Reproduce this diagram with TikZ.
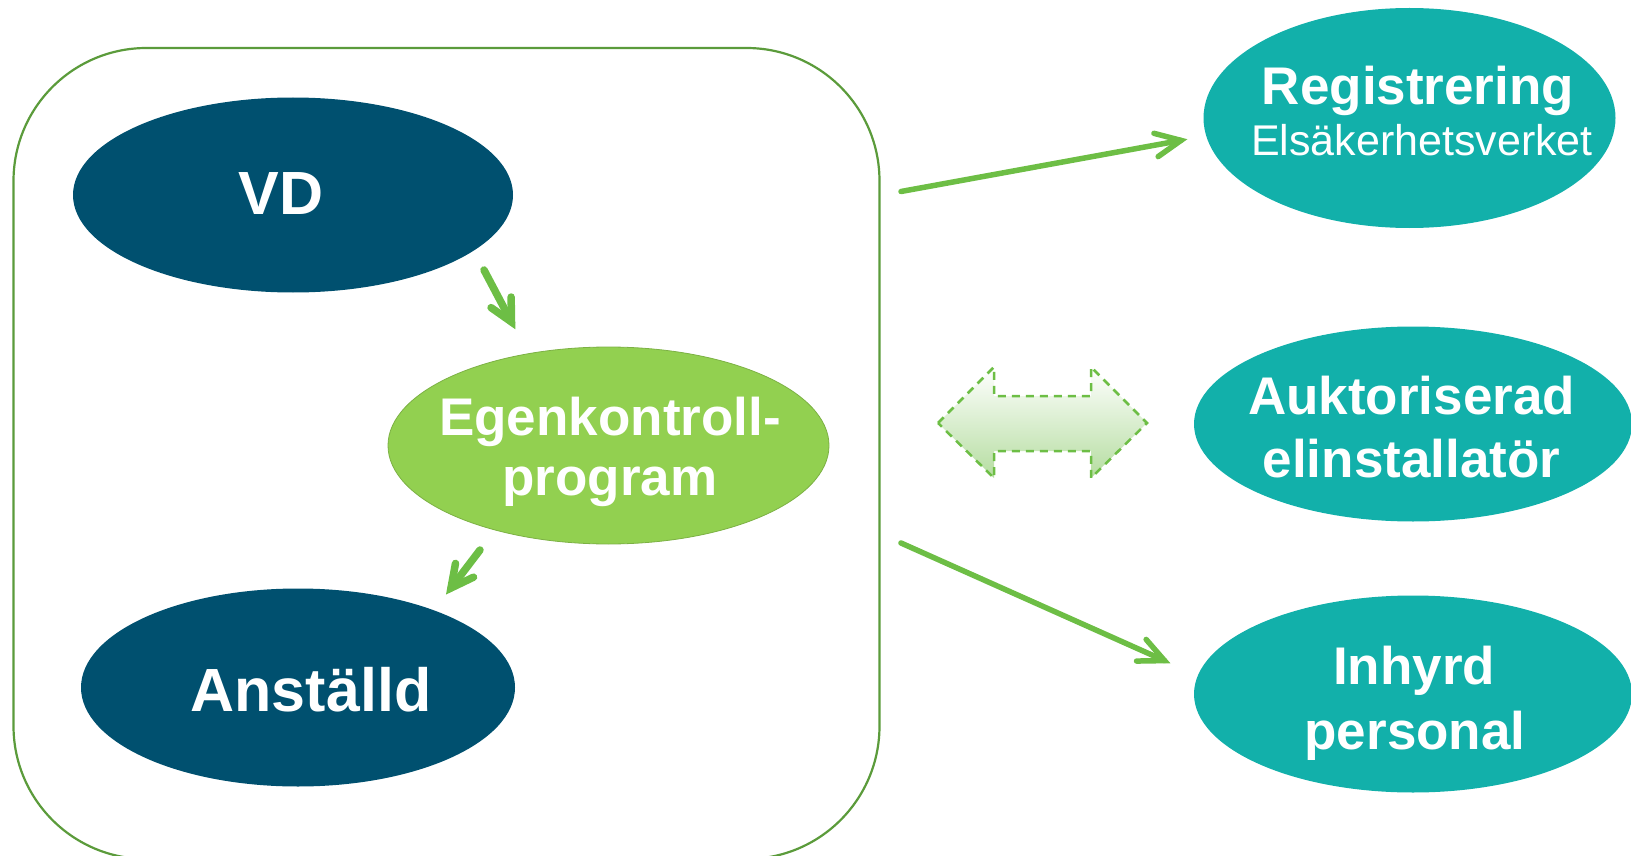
\documentclass[tikz,border=0pt]{standalone}
\usepackage{fontspec}
\setmainfont{Liberation Sans}
\usetikzlibrary{shapes.geometric,calc}
\definecolor{darkblue}{HTML}{00506F}
\definecolor{tealc}{HTML}{12B0AA}
\definecolor{lgreen}{HTML}{92D050}
\definecolor{boxgreen}{HTML}{5B9B3B}
\definecolor{arrgreen}{HTML}{6DBE45}
\definecolor{shadegreen}{HTML}{B5DDA0}
\tikzset{
  ell/.style={ellipse, inner sep=0pt, draw=none},
  bigtxt/.style={text=white, anchor=base, inner sep=0pt, font=\bfseries\fontsize{61}{70}\selectfont},
  midtxt/.style={text=white, anchor=base, inner sep=0pt, font=\bfseries\fontsize{53}{60}\selectfont},
  smalltxt/.style={text=white, anchor=base, inner sep=0pt, font=\fontsize{43}{50}\selectfont},
  longarrow/.style={draw=arrgreen, line width=5.5pt, line cap=round, line join=miter},
  shortarrow/.style={draw=arrgreen, line width=7.5pt, line cap=round, line join=miter},
  dblarrow/.style={draw=arrgreen, line width=2.5pt, dash pattern=on 8pt off 6pt,
    top color=white, bottom color=shadegreen}
}
\begin{document}
\begin{tikzpicture}[x=1pt,y=-1pt]
\useasboundingbox (0,0) rectangle (1631,856);
% outer rounded box
\draw[boxgreen, line width=2.2pt, rounded corners=133pt] (13.5,48) rectangle (879.5,859);
% ellipses
\node[ell, fill=darkblue, minimum width=440pt, minimum height=195pt] (vd) at (293,195) {};
\node[ell, fill=lgreen, draw=lgreen!85!black, line width=0.8pt, minimum width=441pt, minimum height=197pt] (egen) at (608.5,445.5) {};
\node[ell, fill=darkblue, minimum width=434pt, minimum height=198pt] (anst) at (298,687.5) {};
\node[ell, fill=tealc, minimum width=412pt, minimum height=220pt] (reg) at (1409.5,118) {};
\node[ell, fill=tealc, minimum width=438pt, minimum height=195pt] (auk) at (1413,424) {};
\node[ell, fill=tealc, minimum width=438pt, minimum height=197pt] (inh) at (1413,694) {};
% texts
\node[bigtxt] (tvd) at (281,214) {VD};
\node[midtxt] (tegen1) at (610,435) {Egenkontroll-};
\node[midtxt] (tegen2) at (610,495) {program};
\node[bigtxt] (tanst) at (311,711.5) {Anställd};
\node[midtxt] (treg1) at (1418,105) {Registrering};
\node[smalltxt] (treg2) at (1422,156) {Elsäkerhetsverket};
\node[midtxt] (tauk1) at (1411.5,414) {Auktoriserad};
\node[midtxt] (tauk2) at (1411.5,477.5) {elinstallatör};
\node[midtxt] (tinh1) at (1414,684.5) {Inhyrd};
\node[midtxt] (tinh2) at (1415,749) {personal};
% arrow coordinates
\coordinate (a1s) at (484,270);
\coordinate (a1e) at (511.5,322);
\coordinate (a2s) at (480,550);
\coordinate (a2e) at (451,588);
\coordinate (a3s) at (901,191.5);
\coordinate (a3e) at (1181,140.4);
\coordinate (a4s) at (901,543);
\coordinate (a4e) at (1164.5,660.6);
% connectors with open heads
\draw[shortarrow] (a1s) -- (a1e);
\draw[shortarrow] ($(a1e)!25pt!27:(a1s)$) -- (a1e) -- ($(a1e)!25pt!-27:(a1s)$);
\draw[shortarrow] (a2s) -- (a2e);
\draw[shortarrow] ($(a2e)!25pt!27:(a2s)$) -- (a2e) -- ($(a2e)!25pt!-27:(a2s)$);
\draw[longarrow] (a3s) -- (a3e);
\draw[longarrow] ($(a3e)!28pt!25:(a3s)$) -- (a3e) -- ($(a3e)!28pt!-25:(a3s)$);
\draw[longarrow] (a4s) -- (a4e);
\draw[longarrow] ($(a4e)!28pt!25:(a4s)$) -- (a4e) -- ($(a4e)!28pt!-25:(a4s)$);
% double arrow
\draw[dblarrow] (938,423) -- (994,367) -- (994,396) -- (1091,396) -- (1091,367) -- (1147,423)
  -- (1091,478) -- (1091,451) -- (994,451) -- (994,478) -- cycle;
\end{tikzpicture}
\end{document}
